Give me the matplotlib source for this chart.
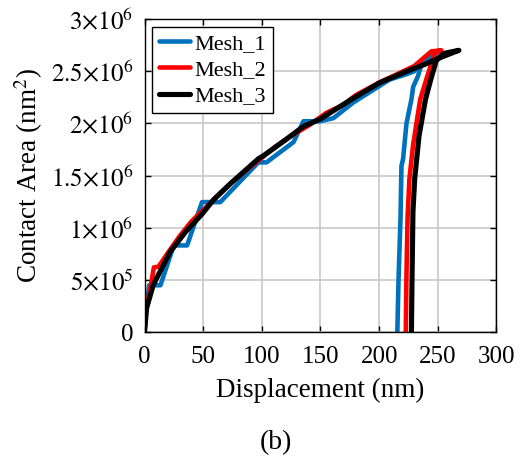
import matplotlib
matplotlib.use('Agg')
import matplotlib.pyplot as plt

plt.rcParams['font.family'] = ['Liberation Serif', 'DejaVu Serif']
plt.rcParams['mathtext.fontset'] = 'stix'

# Mesh_1: loading then unloading
disp_1 = [0, 1, 4, 13.6, 24.9, 36.3, 49, 64.6, 97, 104, 127, 135.5, 149.6, 161, 178,
          200.5, 209, 223, 230, 234.6, 245, 251,
          245, 237, 233, 229, 227.5, 223.3, 220.4, 219, 218.2, 216.5, 215.5]
area_1 = [0, 2.0e5, 4.48e5, 4.48e5, 8.3e5, 8.3e5, 1.245e6, 1.245e6, 1.626e6, 1.626e6,
          1.82e6, 2.02e6, 2.02e6, 2.05e6, 2.2e6, 2.36e6, 2.42e6, 2.47e6, 2.5e6, 2.59e6,
          2.62e6, 2.7e6,
          2.66e6, 2.6e6, 2.45e6, 2.35e6, 2.23e6, 2.0e6, 1.66e6, 1.59e6, 1.09e6, 5.0e5, 0]

# Mesh_2
disp_2 = [0, 1.5, 5, 8, 11.8, 20, 30, 40, 50, 62, 75, 90, 100, 112, 125, 140, 155, 170,
          180, 200, 215, 230, 244.5, 253,
          247.3, 241, 235, 229, 225.8, 224.2, 223.2, 222.7]
area_2 = [0, 2.5e5, 4.2e5, 6.2e5, 6.25e5, 7.6e5, 9.2e5, 1.06e6, 1.17e6, 1.3e6, 1.44e6,
          1.58e6, 1.67e6, 1.78e6, 1.88e6, 1.98e6, 2.1e6, 2.18e6, 2.27e6, 2.39e6, 2.47e6,
          2.55e6, 2.69e6, 2.7e6,
          2.67e6, 2.45e6, 2.23e6, 1.8e6, 1.47e6, 1.09e6, 5.0e5, 0]

# Mesh_3
disp_3 = [0, 1.8, 7.4, 16, 22, 35, 49, 59, 73, 97, 101.4, 120, 135.4, 149.6, 158, 175,
          200.5, 226, 240, 252, 268,
          255, 248.6, 243.5, 239.5, 234, 230.3, 228.8, 228, 227.5]
area_3 = [0, 2.3e5, 4.5e5, 6.4e5, 7.7e5, 9.6e5, 1.13e6, 1.27e6, 1.42e6, 1.66e6, 1.69e6,
          1.84e6, 1.97e6, 2.04e6, 2.1e6, 2.22e6, 2.39e6, 2.51e6, 2.57e6, 2.63e6, 2.7e6,
          2.67e6, 2.6e6, 2.4e6, 2.23e6, 1.88e6, 1.47e6, 1.15e6, 5.0e5, 0]

x_ticks = [0, 50, 100, 150, 200, 250, 300]
y_ticks = [0, 5e5, 1e6, 1.5e6, 2e6, 2.5e6, 3e6]
y_tick_labels = ['0', r'$5{\times}10^{5}$', r'$1{\times}10^{6}$', r'$1.5{\times}10^{6}$',
                 r'$2{\times}10^{6}$', r'$2.5{\times}10^{6}$', r'$3{\times}10^{6}$']

fig = plt.figure(figsize=(5.28, 4.58), dpi=100)
ax = fig.add_axes([0.2737, 0.2751, 0.6666, 0.6834])

ax.plot(disp_1, area_1, color='#0072BD', linewidth=3.3, label='Mesh_1', solid_capstyle='round')
ax.plot(disp_2, area_2, color='#FF0000', linewidth=3.3, label='Mesh_2', solid_capstyle='round')
ax.plot(disp_3, area_3, color='#000000', linewidth=3.7, label='Mesh_3', solid_capstyle='round')

ax.set_xlim(0, 300)
ax.set_ylim(0, 3e6)
ax.set_xticks(x_ticks)
ax.set_yticks(y_ticks)
ax.set_yticklabels(y_tick_labels)
ax.tick_params(direction='in', top=True, right=True, labelsize=18, length=4, width=1)
ax.tick_params(axis='x', pad=10)
ax.tick_params(axis='y', pad=8)
ax.grid(True, color='#c8c8c8', linewidth=1.2)
ax.set_axisbelow(True)
for s in ax.spines.values():
    s.set_linewidth(1.0)

ax.set_xlabel('Displacement (nm)', fontsize=19.5, labelpad=7)
ax.set_ylabel(r'Contact Area (nm$^2$)', fontsize=19.5, labelpad=4)

leg = ax.legend(loc='upper left', fontsize=16, fancybox=False, edgecolor='black',
                framealpha=1, handlelength=1.4, borderaxespad=0.34, labelspacing=0.26,
                handletextpad=0.22, borderpad=0.3)
leg.get_frame().set_linewidth(1.0)

fig.text(0.522, 0.033, '(b)', fontsize=20, ha='center', va='center')

fig.savefig('out.png', dpi=100)
